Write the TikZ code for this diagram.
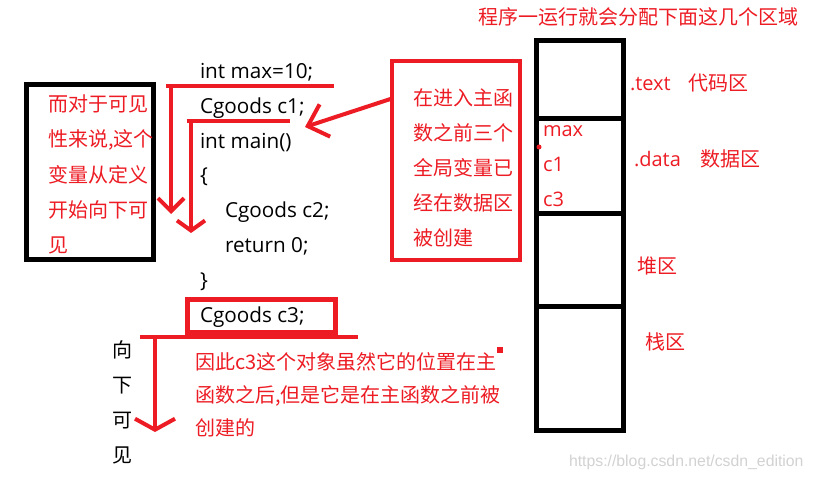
\documentclass[tikz,border=0pt]{standalone}
\usepackage{fontspec}
\setmainfont{Open Sans}
\newfontfamily\cjk{Noto Sans CJK SC}
\newfontfamily\markfont{Liberation Sans}
\usetikzlibrary{arrows.meta,positioning}
\definecolor{paintred}{HTML}{ED1C24}

\begin{document}
\begin{tikzpicture}[
  x=1pt, y=-1pt,
  every node/.style={inner sep=0pt, outer sep=0pt},
  code/.style={anchor=base west, font=\fontsize{20.7}{24}\selectfont},
  note/.style={anchor=base west, align=left, text=paintred, font=\cjk\fontsize{20}{35}\selectfont},
  tag/.style={anchor=base west, text=paintred, font=\fontsize{20}{24}\selectfont},
  seg/.style={draw, line width=5pt, minimum width=87pt},
  redline/.style={draw=paintred, line width=4pt},
  redarrow/.style={redline, -{Straight Barb[length=13pt,width=26pt]}},
]
\useasboundingbox[fill=white] (0,0) rectangle (813,478);

\node[note] (title) at (478,25) {程序一运行就会分配下面这几个区域};

% left box (multi-line nodes sit on their last baseline)
\node[draw, line width=5pt, minimum width=127pt, minimum height=175pt] (scopebox) at (90,172) {};
\node[note] (scopetext) at (48,252) {而对于可见\\性来说,这个\\变量从定义\\开始向下可\\见};

% code
\node[code] (maxline) at (200,79) {int max=10;};
\node[code] (cone) at (200,114) {Cgoods c1;};
\node[code] (mainline) at (200,149) {int main()};
\node[code] (lbrace) at (200,183) {\{};
\node[code] (ctwo) at (225,218) {Cgoods c2;};
\node[code] (ret) at (225,252) {return 0;};
\node[code] (rbrace) at (200,287) {\}};
\node[draw=paintred, line width=5pt, minimum width=148pt, minimum height=33pt] (cthreebox) at (261.5,316) {};
\node[code] (cthree) at (200,322) {Cgoods c3;};

% red note box
\node[draw=paintred, line width=4pt, minimum width=128pt, minimum height=199pt] (notebox) at (456,160.5) {};
\node[note] (notetext) at (413,245.5) {在进入主函\\数之前三个\\全局变量已\\经在数据区\\被创建};

% memory layout
\node[seg, minimum height=78pt] (textseg) at (580,79.5) {};
\node[seg, minimum height=95pt, below=0pt of textseg] (dataseg) {};
\node[seg, minimum height=93pt, below=0pt of dataseg] (heapseg) {};
\node[seg, minimum height=124pt, below=0pt of heapseg] (stackseg) {};

\node[tag] (datamax) at (543,137) {max};
\node[tag] (dataone) at (543,172) {c1};
\node[tag] (datathree) at (543,207) {c3};
\fill[paintred] (539,147) circle (2.5pt);

\node[tag] (textlbl) at (630,91) {.text\hspace{18pt}{\cjk 代码区}};
\node[tag] (datalbl) at (634,167) {.data\hspace{20pt}{\cjk 数据区}};
\node[note] (heaplbl) at (637,273) {堆区};
\node[note] (stacklbl) at (645,349) {栈区};

% scope lines
\coordinate (aw) at (166,86);
\coordinate (ae) at (334,86);
\coordinate (atop) at (171,86);
\coordinate (abot) at (171,214);
\draw[redline] (aw) -- (ae);
\draw[redarrow] (atop) -- (abot);

\coordinate (bw) at (187,121);
\coordinate (be) at (290,121);
\coordinate (btop) at (191,121);
\coordinate (bbot) at (191,233);
\draw[redline] (bw) -- (be);
\draw[redarrow, -{Straight Barb[length=10pt,width=28pt]}] (btop) -- (bbot);

\coordinate (cw) at (140,337);
\coordinate (ce) at (358,337);
\coordinate (ctop) at (155,337);
\coordinate (cbot) at (155,432);
\draw[redline] (cw) -- (ce);
\draw[redarrow, -{Straight Barb[length=11pt,width=40pt]}] (ctop) -- (cbot);

\coordinate (conetip) at (305,127);
\draw[redarrow, -{Straight Barb[length=18pt,width=34pt]}] ([yshift=62pt]notebox.west) -- (conetip);

\node[note, text=black] (downlbl) at (112,462) {向\\下\\可\\见};
\node[note, font=\cjk\fontsize{20}{33}\selectfont] (cthreenote) at (195,435) {因此c3这个对象虽然它的位置在主\\函数之后,但是它是在主函数之前被\\创建的};
\fill[paintred] (497,347) rectangle (503,353);

\node[anchor=base west, text=gray!35, font=\markfont\fontsize{15.8}{18}\selectfont] (mark) at (569,466) {https://blog.csdn.net/csdn\_edition};
\end{tikzpicture}
\end{document}
